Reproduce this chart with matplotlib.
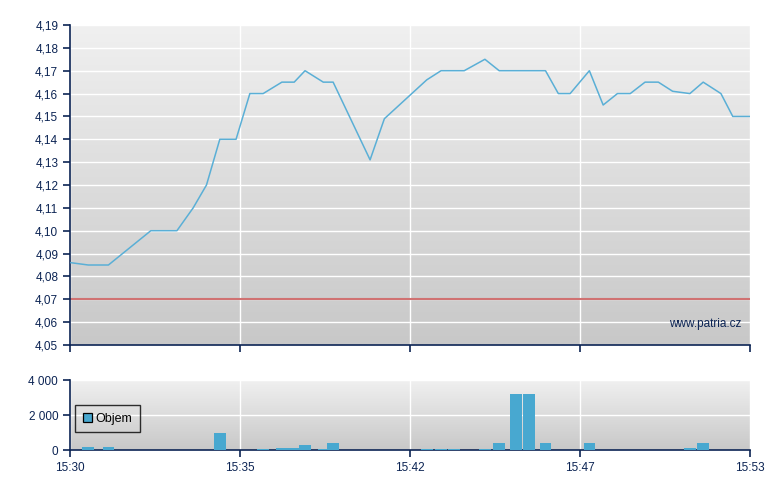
import numpy as np
import matplotlib
matplotlib.use('Agg')
import matplotlib.pyplot as plt
from matplotlib.ticker import FuncFormatter

plt.rcParams['font.family'] = ['Liberation Sans', 'DejaVu Sans']

# trade times, price and volume (Patria intraday)
times = ['15:30:02', '15:30:37', '15:31:18', '15:32:44', '15:33:37', '15:34:10',
         '15:34:37', '15:35:04', '15:35:37', '15:36:05', '15:36:32', '15:37:10',
         '15:37:35', '15:37:57', '15:38:34', '15:38:54', '15:40:09', '15:40:38',
         '15:42:04', '15:42:33', '15:42:59', '15:43:20', '15:44:02', '15:44:31',
         '15:45:05', '15:45:32', '15:46:05', '15:46:31', '15:46:55', '15:47:34',
         '15:48:02', '15:48:31', '15:48:57', '15:49:27', '15:49:54', '15:50:23',
         '15:50:58', '15:51:25', '15:52:01', '15:52:25', '15:52:59']
prices = [4.086, 4.085, 4.085, 4.100, 4.100, 4.110, 4.120, 4.140, 4.140, 4.160,
          4.160, 4.165, 4.165, 4.170, 4.165, 4.165, 4.131, 4.149, 4.166, 4.170,
          4.170, 4.170, 4.175, 4.170, 4.170, 4.170, 4.170, 4.160, 4.160, 4.170,
          4.155, 4.160, 4.160, 4.165, 4.165, 4.161, 4.160, 4.165, 4.160, 4.150,
          4.150]
volumes = [0, 180, 180, 0, 0, 0, 0, 1000, 0, 0, 60, 120, 120, 290, 60, 420, 0, 0,
           50, 50, 50, 0, 50, 400, 3220, 3220, 400, 0, 0, 400, 0, 0, 0, 0, 0, 0,
           110, 400, 0, 0, 0]
prev_close = 4.07
tick_labels = ['15:30', '15:35', '15:42', '15:47', '15:53']

start, end = 0.0, 23.0
x = np.array([(int(t[3:5]) - 30) + int(t[6:8]) / 60 for t in times])
xticks = np.linspace(start, end, len(tick_labels))

navy = '#0c2454'
line_col = '#5aafd6'
bar_col = '#48a8d0'


def gradient(ax):
    grad = np.linspace(0, 1, 256).reshape(-1, 1)
    ax.imshow(grad, extent=[0, 1, 0, 1], transform=ax.transAxes, aspect='auto',
              cmap=matplotlib.colors.LinearSegmentedColormap.from_list(
                  'bg', ['#f0f0f0', '#c8c8c8']),
              zorder=0, interpolation='bilinear')


def style(ax):
    for s in ['top', 'right']:
        ax.spines[s].set_visible(False)
    for s in ['left', 'bottom']:
        ax.spines[s].set_color(navy)
        ax.spines[s].set_linewidth(1.2)
    ax.tick_params(colors=navy, labelcolor=navy, length=5, width=1.2,
                   labelsize=8.5)
    ax.grid(True, color='white', linewidth=1)
    ax.set_axisbelow(True)
    ax.set_xlim(start, end)
    ax.set_xticks(xticks)


fig = plt.figure(figsize=(7.8, 4.9), dpi=100)
ax = fig.add_axes([70 / 780, 145 / 490, 680 / 780, 320 / 490])
axv = fig.add_axes([70 / 780, 40 / 490, 680 / 780, 70 / 490])

gradient(ax)
style(ax)
ax.set_ylim(4.05, 4.19)
ax.set_yticks(np.arange(4.05, 4.1901, 0.01))
ax.yaxis.set_major_formatter(FuncFormatter(lambda v, p: f'{v:.2f}'.replace('.', ',')))
ax.set_xticklabels([])
ax.axhline(prev_close, color='#d07272', lw=1.5, zorder=2)
ax.plot(x, prices, color=line_col, lw=1.1, zorder=3)
ax.text(0.988, 0.065, 'www.patria.cz', transform=ax.transAxes, ha='right',
        va='center', color=navy, fontsize=8.5)

gradient(axv)
style(axv)
axv.set_ylim(0, 4000)
axv.set_yticks([0, 2000, 4000])
axv.yaxis.set_major_formatter(FuncFormatter(lambda v, p: f'{int(v):,}'.replace(',', ' ')))
axv.set_xticklabels(tick_labels)
axv.bar(x, volumes, width=0.39, color=bar_col, zorder=3, label='Objem')
leg = axv.legend(loc='upper left', bbox_to_anchor=(5 / 680, 45 / 70),
                 borderaxespad=0, frameon=True, fancybox=False, fontsize=9,
                 handlelength=0.75, handleheight=0.75, borderpad=0.6,
                 handletextpad=0.3)
frame = leg.get_frame()
frame.set_facecolor('none')
frame.set_edgecolor('black')
frame.set_linewidth(1)
for h in leg.legend_handles:
    h.set_edgecolor('black')
    h.set_linewidth(0.9)
for t in leg.get_texts():
    t.set_color('black')

fig.savefig('out.png', dpi=100)
plt.close(fig)
